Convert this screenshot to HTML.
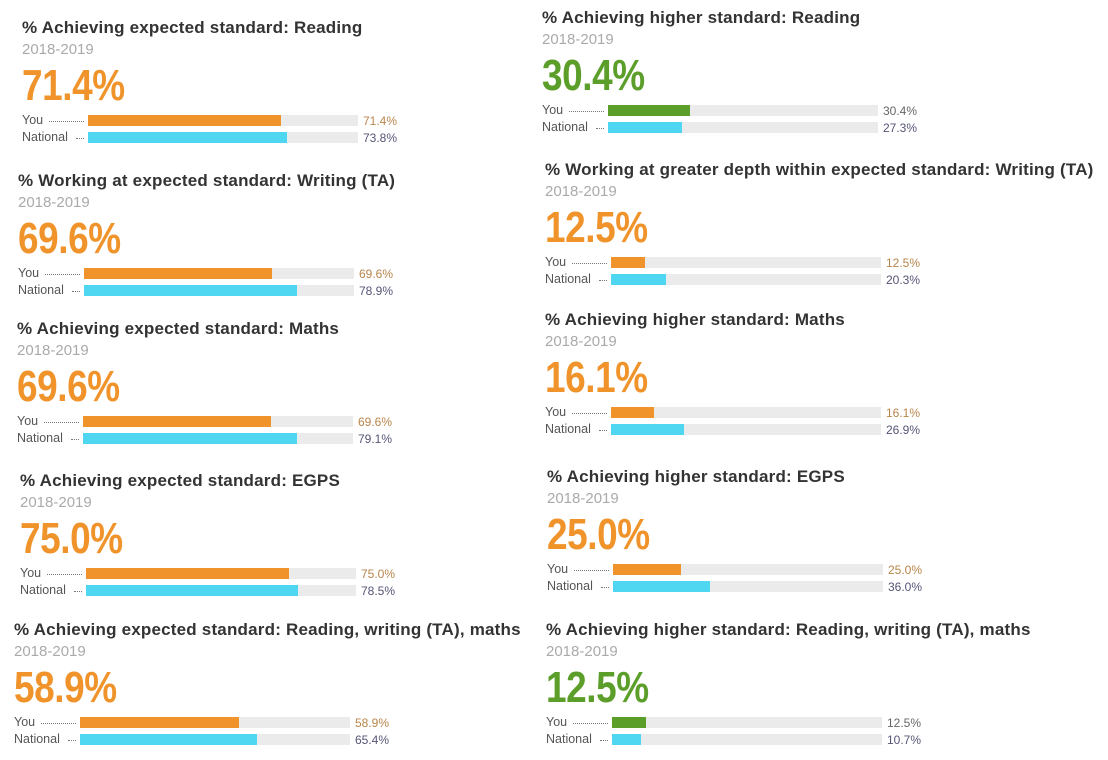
<!DOCTYPE html>
<html><head><meta charset="utf-8"><style>
body{margin:0;width:1108px;height:758px;background:#fff;position:relative;overflow:hidden;font-family:"Liberation Sans",sans-serif}
.p{position:absolute;width:560px;height:140px}
.t{position:absolute;left:0;top:0;line-height:20px;font-size:17px;font-weight:bold;color:#333;white-space:nowrap;letter-spacing:0.2px}
.y{position:absolute;left:0;top:23px;line-height:18px;font-size:15px;color:#aaa}
.n{position:absolute;left:0;top:45px;line-height:46px;font-size:44px;font-weight:bold;transform:scaleX(0.84);transform-origin:left;letter-spacing:-0.5px}
.l{position:absolute;left:0;font-size:12.5px;line-height:12px;color:#555;white-space:nowrap}
.d{position:absolute;height:0;border-top:1px dotted #777}
.tr{position:absolute;left:66px;width:270px;height:11px;background:#ebebeb}
.b{position:absolute;left:0;top:0;height:11px}
.v{position:absolute;left:341px;font-size:12px;line-height:12px}
.o{color:#f0932b}.g{color:#5c9e2a}
.bo{background:#f0932b}.bg{background:#5c9e2a}.bc{background:#4fd6f0}
</style></head><body>
<div id="root"></div>
<script>
const P=[
[22,28,"% Achieving expected standard: Reading","71.4%",71.4,73.8,"o"],
[18,181,"% Working at expected standard: Writing (TA)","69.6%",69.6,78.9,"o"],
[17,329,"% Achieving expected standard: Maths","69.6%",69.6,79.1,"o"],
[20,481,"% Achieving expected standard: EGPS","75.0%",75.0,78.5,"o"],
[14,630,"% Achieving expected standard: Reading, writing (TA), maths","58.9%",58.9,65.4,"o"],
[542,18,"% Achieving higher standard: Reading","30.4%",30.4,27.3,"g"],
[545,170,"% Working at greater depth within expected standard: Writing (TA)","12.5%",12.5,20.3,"o"],
[545,320,"% Achieving higher standard: Maths","16.1%",16.1,26.9,"o"],
[547,477,"% Achieving higher standard: EGPS","25.0%",25.0,36.0,"o"],
[546,630,"% Achieving higher standard: Reading, writing (TA), maths","12.5%",12.5,10.7,"g"]];
let h="";
for(const [x,T,t,n,a,b,c] of P){
h+=`<div class="p" style="left:${x}px;top:${T-10}px">
<div class="t">${t}</div><div class="y">2018-2019</div>
<div class="n ${c}">${n}</div>
<div class="l" style="top:96px">You</div><div class="d" style="left:27px;width:35px;top:103px"></div>
<div class="l" style="top:113px">National</div><div class="d" style="left:54px;width:8px;top:120px"></div>
<div class="tr" style="top:97px"><div class="b b${c}" style="width:${a*2.7}px"></div></div>
<div class="tr" style="top:114px"><div class="b bc" style="width:${b*2.7}px"></div></div>
<div class="v" style="top:97px;color:${c=='o'?'#b8844a':'#666'}">${a.toFixed(1)}%</div>
<div class="v" style="top:114px;color:#557">${b.toFixed(1)}%</div>
</div>`;}
document.getElementById("root").innerHTML=h;
</script>
</body></html>
